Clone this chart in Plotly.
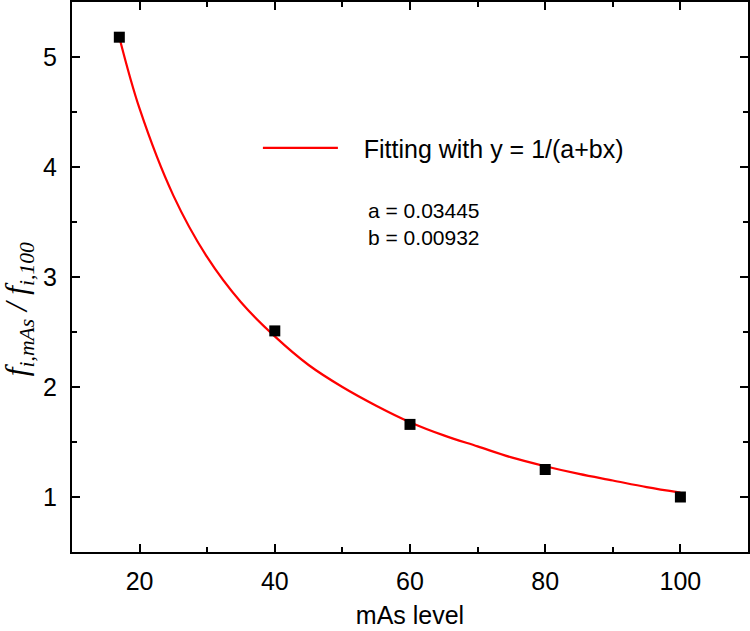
import plotly.graph_objects as go

# measured points
mas_level = [17, 40, 60, 80, 100]
ratio = [5.18, 2.51, 1.66, 1.25, 1.00]

# fitted curve
fit_x = [17, 20, 25, 30, 35, 40, 45, 50, 55, 60, 65, 70, 75, 80, 85, 90, 95, 100]
fit_y = [5.18, 4.53, 3.74, 3.18, 2.77, 2.46, 2.20, 2.00, 1.83, 1.68, 1.56, 1.46,
         1.36, 1.28, 1.21, 1.15, 1.09, 1.04]

fit_label = "Fitting with y = 1/(a+bx)"
param_text = "a = 0.03445<br>b = 0.00932"
y_title = "<i>f</i><sub><i>i,mAs</i></sub><i> / f</i><sub><i>i,100</i></sub>"

SANS = "Liberation Sans, Arial"

fig = go.Figure()

fig.add_trace(go.Scatter(
    x=fit_x, y=fit_y, mode="lines",
    line=dict(color="#ff0000", width=2.2, shape="spline"),
    name="&nbsp;&nbsp;&nbsp;" + fit_label, showlegend=True,
))

fig.add_trace(go.Scatter(
    x=mas_level, y=ratio, mode="markers",
    marker=dict(symbol="square", size=11, color="black"),
    showlegend=False,
))

axis_common = dict(
    showline=True, linecolor="black", linewidth=2, mirror="ticks",
    ticks="inside", ticklen=8, tickwidth=1.5, tickcolor="black",
    showgrid=False, zeroline=False, automargin=False,
    tickfont=dict(family=SANS, size=25, color="black"),
)

fig.update_xaxes(
    range=[10, 110], tickvals=[20, 40, 60, 80, 100],
    minor=dict(tickvals=[30, 50, 70, 90], ticks="inside", ticklen=5,
               tickwidth=1.5, tickcolor="black"),
    ticklabelstandoff=6,
    title=dict(text="mAs level", standoff=12,
               font=dict(family=SANS, size=25, color="black")),
    **axis_common,
)

fig.update_yaxes(
    range=[0.5, 5.5], tickvals=[1, 2, 3, 4, 5],
    minor=dict(tickvals=[1.5, 2.5, 3.5, 4.5], ticks="inside", ticklen=5,
               tickwidth=1.5, tickcolor="black"),
    ticklabelstandoff=8,
    **axis_common,
)

# y axis title, placed like the original (a bit below the axis middle)
fig.add_annotation(
    x=-0.078, y=0.442, xref="paper", yref="paper", xanchor="center", yanchor="middle",
    text=y_title, textangle=-90, showarrow=False,
    font=dict(family="Liberation Serif, Times New Roman", size=31, color="black"),
)

fig.add_annotation(
    x=0.435, y=0.596, xref="paper", yref="paper", xanchor="left", yanchor="middle",
    text=param_text, showarrow=False, align="left",
    font=dict(family=SANS, size=21, color="black"),
)

fig.update_layout(
    width=750, height=631,
    margin=dict(l=72, r=2, t=2, b=79),
    plot_bgcolor="white", paper_bgcolor="white",
    legend=dict(x=0.275, y=0.7345, xanchor="left", yanchor="middle",
                bgcolor="rgba(0,0,0,0)", itemwidth=75,
                font=dict(family=SANS, size=25, color="black")),
)

fig.write_html("out.html", config={"displayModeBar": False},
               post_script="document.body.style.margin = '0';")
